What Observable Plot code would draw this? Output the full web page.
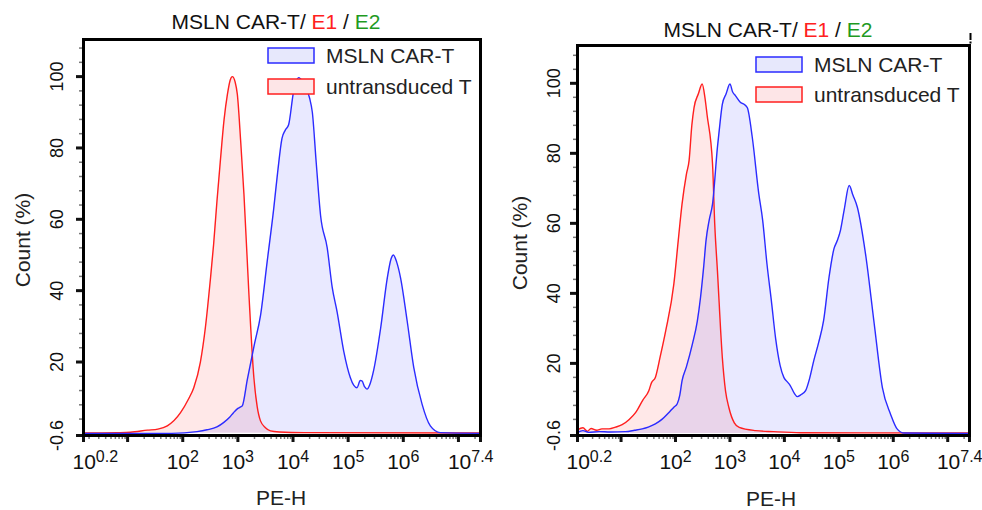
<!DOCTYPE html>
<html><head><meta charset="utf-8">
<script src="https://cdn.jsdelivr.net/npm/d3@7"></script>
<script src="https://cdn.jsdelivr.net/npm/@observablehq/plot@0.6"></script>
<style>
html,body{margin:0;padding:0;background:#fff;}
#wrap{position:relative;width:982px;height:510px;overflow:hidden;}
#wrap svg{position:absolute;top:0;}
</style></head><body><div id="wrap"></div>
<script>
// ---------- data (x = log10(PE-H), y = Count %) ----------
const leftRedLog   = [0.2,0.8,1.05,1.36,1.55,1.72,1.96,2.1,2.2,2.32,2.41,2.5,2.56,2.62,2.68,2.75,2.81,2.86,2.9,2.95,2.99,3.05,3.11,3.2,3.29,3.35,3.41,3.5,3.59,3.75,4.2,7.4];
const leftRedCount = [0.1,0.2,0.3,0.9,1.2,2.1,5.8,9.5,12.8,20,29.6,43,53,65,76,88,95,99,100,98.5,95,82,67,39,15.6,7.5,3.5,1.6,0.7,0.4,0.2,0.1];

const leftBlueLog   = [0.2,1.8,2.26,2.44,2.62,2.74,2.85,2.92,3.0,3.05,3.08,3.17,3.3,3.41,3.53,3.65,3.72,3.8,3.86,3.92,4.01,4.1,4.18,4.23,4.3,4.35,4.42,4.5,4.62,4.71,4.8,4.92,5.04,5.1,5.16,5.22,5.25,5.3,5.34,5.4,5.46,5.59,5.71,5.78,5.82,5.88,5.95,6.07,6.19,6.34,6.49,6.67,7.4];
const leftBlueCount = [0,0,0.5,1,1.8,3,4.5,5.8,7,7.4,7.7,15,25,33,48,63,73,82.7,85,86.5,95.8,99.7,98.5,97,94,90,76,61,52,41,34,23,15.6,13.5,12.8,14.8,14.7,13,12.4,14,17.5,29.6,43.6,49,50,48,43.6,31.5,18.4,8.2,2.1,0.2,0];

const rightRedLog   = [0.2,0.3,0.38,0.45,0.55,0.65,0.78,0.9,1.02,1.15,1.27,1.4,1.51,1.56,1.63,1.72,1.82,1.97,2.05,2.12,2.2,2.25,2.3,2.34,2.42,2.49,2.54,2.58,2.68,2.72,2.77,2.86,2.92,2.98,3.08,3.17,3.47,3.8,4.3,7.4];
const rightRedCount = [1.0,1.6,0.6,1.4,0.9,1.3,1.3,1.8,2.5,4,6,9.5,12.2,14.5,16,22,29.3,42.7,55,65.5,74,78,88,93,97,99.8,96,91,77,60,46.5,21.7,12,7.4,3,1.7,0.8,0.5,0.2,0.1];

const rightBlueLog   = [0.2,0.3,0.4,0.6,0.8,1.08,1.25,1.39,1.5,1.63,1.75,1.88,1.97,2.03,2.08,2.12,2.2,2.31,2.4,2.46,2.52,2.56,2.62,2.68,2.77,2.82,2.86,2.93,3.0,3.05,3.1,3.19,3.26,3.32,3.41,3.53,3.6,3.68,3.76,3.84,3.92,3.99,4.05,4.11,4.18,4.24,4.3,4.39,4.46,4.54,4.63,4.72,4.82,4.91,4.97,5.03,5.1,5.19,5.26,5.34,5.49,5.65,5.8,5.95,6.07,6.2,7.4];
const rightBlueCount = [0.3,0.8,0.3,0.5,0.4,0.5,0.9,1.3,1.8,2.7,4,6,7.5,8.4,11,15,19,25.5,32,38.9,48,55,61,65.5,81.7,89,94,97,99.8,97.5,96.5,94.6,94,93,84.6,68.4,61,48.4,38,27,19.5,16,14.8,13.6,11.5,10.5,11,12.2,15.5,20.8,26,32.2,44.6,52.7,55,58,64,70.8,68,64.6,51.3,31.3,13.1,5.5,1.3,0.1,0];

const xLabeled   = [0.2, 2, 3, 4, 5, 6, 7.4];
const xMajor     = [0.2, 1, 2, 3, 4, 5, 6, 7, 7.4];
const yMajor     = [-0.6, 20, 40, 60, 80, 100];
const seriesNames = ["MSLN CAR-T", "untransduced T"];
const titleParts = [["MSLN CAR-T/ ", "#111"], ["E1", "#ff2020"], [" / ", "#111"], ["E2", "#1f9a1f"]];
const xTitle = "PE-H";
const yTitle = "Count (%)";

// ---------- style ----------
const FONT = "'Liberation Sans', Arial, sans-serif";
const RED = "#ff1f1f", BLUE = "#2b2bff";
const xMinor = [];
for (let n = 0; n <= 7; n++) for (let k = 2; k <= 9; k++) {
  const v = n + Math.log10(k);
  if (v > 0.2 && v < 7.4) xMinor.push(v);
}
const yMinor = d3.range(4, 110, 4).filter(v => v % 20 !== 0);

function rows(xs, ys) { return xs.map((e, i) => ({e, v: ys[i]})); }

function makePanel(cfg) {
  const red = rows(cfg.redLog, cfg.redCount);
  const blue = rows(cfg.blueLog, cfg.blueCount);
  const svg = Plot.plot({
    width: cfg.width, height: 510,
    marginLeft: cfg.ml, marginRight: cfg.mr, marginTop: cfg.mt, marginBottom: 75,
    style: {fontFamily: FONT, background: "transparent", overflow: "visible", color: "#111"},
    x: {domain: [0.2, 7.4]},
    y: {domain: [-0.6, cfg.yMax]},
    marks: [
      Plot.areaY(red, {x: "e", y: "v", fill: RED, fillOpacity: 0.1, curve: "monotone-x"}),
      Plot.areaY(blue, {x: "e", y: "v", fill: BLUE, fillOpacity: 0.1, curve: "monotone-x"}),
      Plot.lineY(red, {x: "e", y: "v", stroke: RED, strokeWidth: 1.4, curve: "monotone-x"}),
      Plot.lineY(blue, {x: "e", y: "v", stroke: BLUE, strokeWidth: 1.4, curve: "monotone-x"}),
      Plot.axisY({ticks: yMinor, tickSize: 4, stroke: "#777", strokeWidth: 1.5, tickFormat: () => "", label: null}),
      Plot.axisY({ticks: yMajor, tickSize: 7, strokeWidth: 3, tickRotate: -90, tickPadding: cfg.yPad, fontSize: 18, tickFormat: d => String(d), label: null}),
      Plot.axisX({ticks: xMinor, tickSize: 4, stroke: "#777", strokeWidth: 1.5, tickFormat: () => "", label: null}),
      Plot.axisX({ticks: xMajor, tickSize: 7, strokeWidth: 3, tickPadding: 12, fontSize: 21, tickFormat: d => xLabeled.includes(d) ? String(d) : "", label: null}),
      Plot.frame({stroke: "#000", strokeWidth: 3})
    ]
  });
  svg.style.left = cfg.left + "px";
  // superscript tick labels: 10^exp
  d3.select(svg).selectAll('g[aria-label="x-axis tick label"] text').each(function() {
    const t = d3.select(this);
    const s = t.text();
    if (!s) return;
    t.text("");
    t.append("tspan").text("10");
    t.append("tspan").attr("dy", "-7").attr("font-size", 16).text(s);
    if (s === "0.2") t.attr("text-anchor", "start").attr("dx", -11);
    if (s === "7.4") t.attr("text-anchor", "end").attr("dx", 13);
  });
  return svg;
}

const wrap = document.getElementById("wrap");
wrap.appendChild(makePanel({left: 0, width: 490, ml: 83, mr: 10, mt: 39, yMax: 110.4, yPad: 14,
  redLog: leftRedLog, redCount: leftRedCount, blueLog: leftBlueLog, blueCount: leftBlueCount}));
wrap.appendChild(makePanel({left: 490, width: 492, ml: 87, mr: 13, mt: 45, yMax: 110.8, yPad: 11,
  redLog: rightRedLog, redCount: rightRedCount, blueLog: rightBlueLog, blueCount: rightBlueCount}));

// ---------- overlay: titles, axis titles, legends ----------
const ov = d3.select(wrap).append("svg").attr("width", 982).attr("height", 510)
  .style("left", "0px").style("font-family", FONT).style("pointer-events", "none");

const panels = [
  {titleX: 276, titleY: 29, yLabX: 30, yLabY: 240, xLabX: 281, xLabY: 505, legX: 268, legY: [48, 79], legTextY: [63, 94]},
  {titleX: 768, titleY: 37, yLabX: 527, yLabY: 243, xLabX: 771, xLabY: 506, legX: 756, legY: [57, 87], legTextY: [72, 102]}
];
const legStroke = [BLUE, RED], legFill = ["#e7e8fc", "#fde5e7"];
for (const p of panels) {
  const tt = ov.append("text").attr("x", p.titleX).attr("y", p.titleY).attr("text-anchor", "middle").attr("font-size", 21);
  for (const [s, c] of titleParts) tt.append("tspan").attr("fill", c).text(s);
  ov.append("text").attr("transform", `translate(${p.yLabX},${p.yLabY}) rotate(-90)`).attr("text-anchor", "middle")
    .attr("font-size", 21).attr("fill", "#222").text(yTitle);
  ov.append("text").attr("x", p.xLabX).attr("y", p.xLabY).attr("text-anchor", "middle")
    .attr("font-size", 21).attr("fill", "#222").text(xTitle);
  seriesNames.forEach((name, i) => {
    ov.append("rect").attr("x", p.legX).attr("y", p.legY[i]).attr("width", 46).attr("height", 15)
      .attr("fill", legFill[i]).attr("stroke", legStroke[i]).attr("stroke-width", 1.5);
    ov.append("text").attr("x", p.legX + 58).attr("y", p.legTextY[i]).attr("font-size", 21).attr("fill", "#222").text(name);
  });
}
// small mark above the right panel's top-right corner
ov.append("line").attr("x1", 970.5).attr("x2", 970.5).attr("y1", 33).attr("y2", 40).attr("stroke", "#000").attr("stroke-width", 2);
ov.append("rect").attr("x", 969.5).attr("y", 41.5).attr("width", 2).attr("height", 2).attr("fill", "#000");
</script></body></html>
